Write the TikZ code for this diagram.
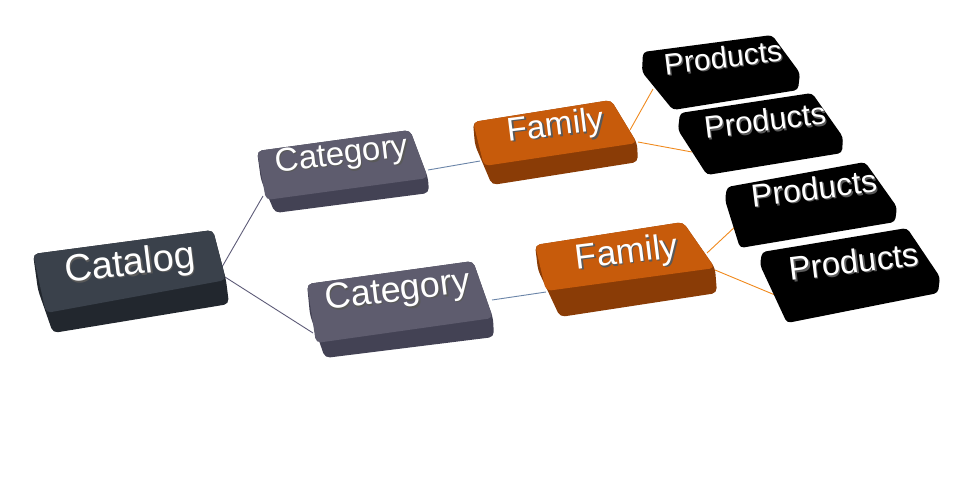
\documentclass[tikz,border=0pt]{standalone}
\usepackage{fontspec}
\setmainfont{Liberation Sans}
\definecolor{catTop}{HTML}{3A414B}
\definecolor{catSide}{HTML}{22272E}
\definecolor{cgTop}{HTML}{5E5C6E}
\definecolor{cgSide}{HTML}{434254}
\definecolor{famTop}{HTML}{C75B0B}
\definecolor{famSide}{HTML}{8A3C06}
\definecolor{lnA}{HTML}{5E5C78}
\definecolor{lnB}{HTML}{6A84A8}
\definecolor{lnC}{HTML}{F08A1E}
\newcommand\boxlabel[4]{%
  \node[text=white, rotate=7, inner sep=0, font=\fontsize{#3}{#3}\selectfont] (#1) at #2
    {\rlap{\kern1.2pt\raisebox{-1.5pt}{\textcolor{black!65}{#4}}}#4};}
\begin{document}
\begin{tikzpicture}[x=1pt,y=-1pt]
\useasboundingbox (0,0) rectangle (960,483);
\tikzset{
  conn/.style={line width=0.9pt},
  keyround/.style={rounded corners=5pt},
}
% connector end points
\coordinate (cat-a) at (222,267);
\coordinate (cat-b) at (225,277);
\coordinate (c1-in) at (263,196);
\coordinate (c2-in) at (313,333);
\coordinate (c1-out) at (428,170);
\coordinate (c2-out) at (492,300);
\coordinate (f1-in) at (480,161);
\coordinate (f2-in) at (546,292);
\coordinate (f1-a) at (630,130);
\coordinate (f1-b) at (638,142);
\coordinate (f2-a) at (707,253);
\coordinate (f2-b) at (715,270);
\coordinate (p1-in) at (653,89);
\coordinate (p2-in) at (692,152);
\coordinate (p3-in) at (738,224);
\coordinate (p4-in) at (775,295);
% connectors
\draw[conn, lnA] (cat-a) -- (c1-in);
\draw[conn, lnA] (cat-b) -- (c2-in);
\draw[conn, lnB] (c1-out) -- (f1-in);
\draw[conn, lnB] (c2-out) -- (f2-in);
\draw[conn, lnC] (f1-a) -- (p1-in);
\draw[conn, lnC] (f1-b) -- (p2-in);
\draw[conn, lnC] (f2-a) -- (p3-in);
\draw[conn, lnC] (f2-b) -- (p4-in);
% Catalog
\fill[catSide, keyround] (33,254) -- (213,230) -- (226,280) -- (229,304) -- (53,333) -- (38,290) -- cycle;
\fill[catTop, keyround] (33,254) -- (213,230) -- (226,280) -- (46,313) -- cycle;
% Category 1
\fill[cgSide, keyround] (257,151) -- (410,130) -- (428,178) -- (429,193) -- (275,213) -- (261,180) -- cycle;
\fill[cgTop, keyround] (257,151) -- (410,130) -- (428,178) -- (266,200) -- cycle;
% Category 2
\fill[cgSide, keyround] (307,284) -- (473,261) -- (493,318) -- (494,337) -- (325,358) -- (310,315) -- cycle;
\fill[cgTop, keyround] (307,284) -- (473,261) -- (493,318) -- (316,343) -- cycle;
% Family 1
\fill[famSide, keyround] (473,122) -- (611,100) -- (637,143) -- (638,162) -- (492,185) -- (475,145) -- cycle;
\fill[famTop, keyround] (473,122) -- (611,100) -- (637,143) -- (484,166) -- cycle;
% Family 2
\fill[famSide, keyround] (535,245) -- (683,222) -- (715,268) -- (717,293) -- (560,317) -- (538,270) -- cycle;
\fill[famTop, keyround] (535,245) -- (683,222) -- (715,268) -- (546,291) -- cycle;
% Products
\fill[black, rounded corners=4pt] (643,52) -- (772,35) -- (800,73) -- (798,90) -- (673,110) -- (642,72) -- cycle;
\fill[black, rounded corners=4pt] (680,113) -- (812,93) -- (843,137) -- (842,153) -- (707,175) -- (678,130) -- cycle;
\fill[black, rounded corners=4pt] (727,187) -- (865,162) -- (897,207) -- (895,222) -- (740,248) -- (725,200) -- cycle;
\fill[black, rounded corners=4pt] (762,252) -- (907,228) -- (940,277) -- (938,293) -- (787,323) -- (760,265) -- cycle;
% labels
\boxlabel{catalog}{(130,266)}{38}{Catalog}
\boxlabel{cat1}{(342,157)}{33}{Category}
\boxlabel{cat2}{(398,293)}{36}{Category}
\boxlabel{fam1}{(556,128)}{33}{Family}
\boxlabel{fam2}{(627,255)}{35}{Family}
\boxlabel{prod1}{(723,58)}{30}{Products}
\boxlabel{prod2}{(765,121)}{31}{Products}
\boxlabel{prod3}{(814,189)}{32}{Products}
\boxlabel{prod4}{(854,262)}{33}{Products}
\end{tikzpicture}
\end{document}
